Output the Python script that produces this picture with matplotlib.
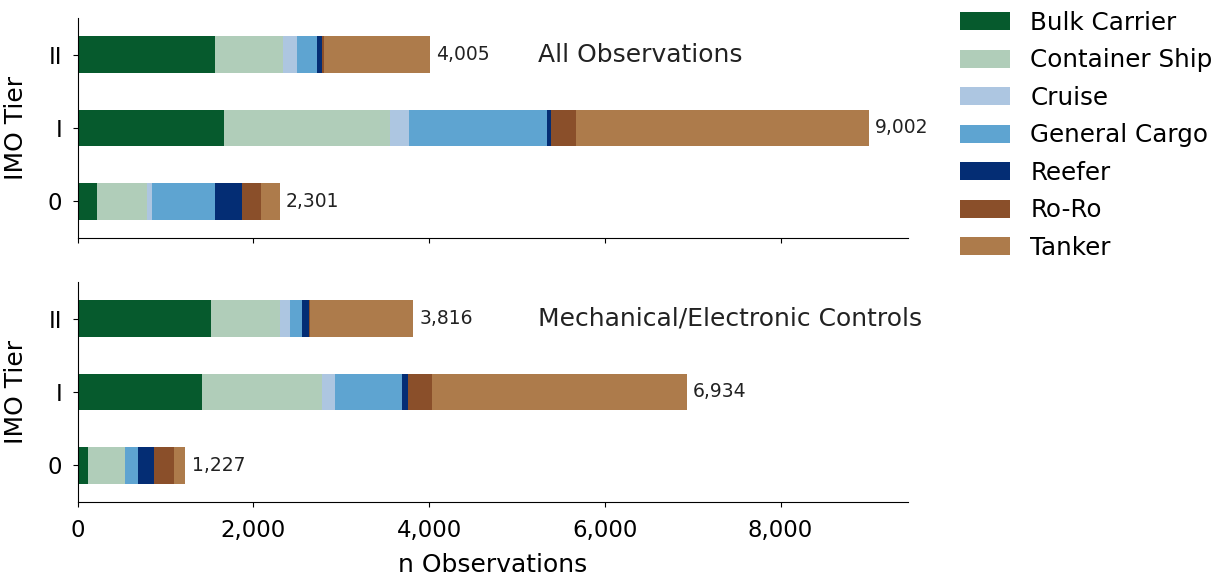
import matplotlib.pyplot as plt
import numpy as np
from matplotlib.ticker import FuncFormatter

tiers = ['0', 'I', 'II']
ship_types = ['Bulk Carrier', 'Container Ship', 'Cruise', 'General Cargo',
              'Reefer', 'Ro-Ro', 'Tanker']
colors = ['#065a2d', '#b0cdb9', '#adc6e1', '#5ea4d1', '#042d74', '#8a4f2a', '#ad7b4b']

# counts per tier (0, I, II) for each ship type
all_obs = {
    'Bulk Carrier':   [220, 1663, 1560],
    'Container Ship': [574, 1891, 779],
    'Cruise':         [53, 220, 159],
    'General Cargo':  [713, 1572, 221],
    'Reefer':         [308, 38, 64],
    'Ro-Ro':          [224, 285, 15],
    'Tanker':         [209, 3333, 1207],
}
mech_obs = {
    'Bulk Carrier':   [118, 1419, 1523],
    'Container Ship': [417, 1362, 778],
    'Cruise':         [5, 143, 117],
    'General Cargo':  [147, 773, 137],
    'Reefer':         [182, 62, 80],
    'Ro-Ro':          [224, 269, 10],
    'Tanker':         [134, 2906, 1171],
}
titles = ['All Observations', 'Mechanical/Electronic Controls']

fig, axes = plt.subplots(2, 1, figsize=(12.14, 5.77), dpi=100, sharex=True)
fig.subplots_adjust(left=0.064, right=0.748, top=0.969, bottom=0.13, hspace=0.2)

y = np.arange(len(tiers))
for ax, data, title in zip(axes, [all_obs, mech_obs], titles):
    left = np.zeros(len(tiers))
    for st, c in zip(ship_types, colors):
        vals = np.array(data[st])
        ax.barh(y, vals, left=left, height=0.5, color=c, label=st)
        left += vals
    for yi, tot in zip(y, left):
        ax.text(tot + 70, yi, f'{int(tot):,}', va='center', ha='left', fontsize=13.5, color='#222222')
    ax.text(5240, 2, title, va='center', ha='left', fontsize=18, color='#222222')
    ax.set_yticks(y)
    ax.set_yticklabels(tiers, fontsize=16.5)
    ax.set_ylabel('IMO Tier', fontsize=18, labelpad=14)
    ax.set_ylim(-0.5, 2.5)
    ax.spines['top'].set_visible(False)
    ax.spines['right'].set_visible(False)
    ax.tick_params(axis='x', labelsize=16.5, pad=9)
    ax.tick_params(axis='y', pad=7.5)

axes[1].set_xlim(0, 9452)
axes[1].xaxis.set_major_formatter(FuncFormatter(lambda v, p: f'{int(v):,}'))
axes[1].set_xlabel('n Observations', fontsize=18, labelpad=8)

axes[0].legend(loc='upper left', bbox_to_anchor=(1.036, 1.134), frameon=False,
               fontsize=17.75, handlelength=2.03, handleheight=0.75, handletextpad=0.81,
               labelspacing=0.55)

plt.savefig('out.png', dpi=100)
